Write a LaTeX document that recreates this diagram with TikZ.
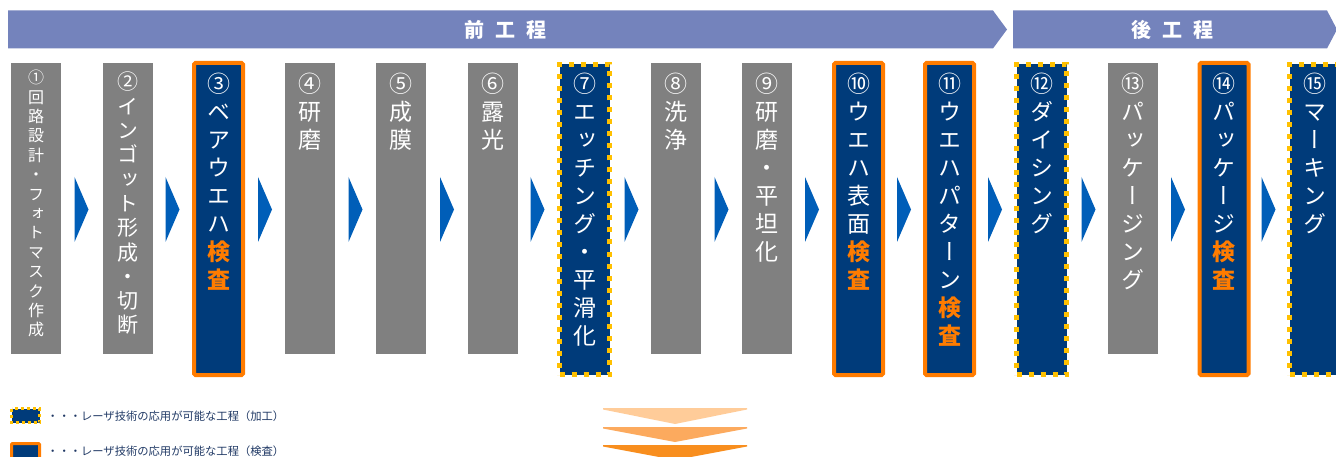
\documentclass[tikz,border=0pt]{standalone}
\usepackage{fontspec}
\newfontfamily\jp{Noto Sans CJK JP}
\newfontfamily\jpv[RawFeature=+vert]{Noto Sans CJK JP}
\definecolor{bannerc}{RGB}{116,131,188}
\definecolor{graycol}{RGB}{128,128,128}
\definecolor{navy}{RGB}{0,59,122}
\definecolor{orng}{RGB}{255,124,0}
\definecolor{ylw}{RGB}{255,192,0}
\definecolor{arrowblue}{RGB}{0,94,184}
\definecolor{legtext}{RGB}{31,56,100}
\definecolor{chevA}{RGB}{255,204,153}
\definecolor{chevB}{RGB}{252,170,94}
\definecolor{chevC}{RGB}{248,142,30}
\newcommand{\orgch}[1]{{\bfseries\color{orng}#1}}
\tikzset{
  graybox/.style={fill=graycol, draw=none, minimum width=50pt, minimum height=291pt, inner sep=0pt},
  inspbox/.style={fill=navy, draw=orng, line width=4pt, rounded corners=1.5pt, minimum width=49pt, minimum height=312pt, inner sep=0pt},
  laserbox/.style={fill=navy, draw=ylw, line width=5pt, dash pattern=on 5pt off 7pt, minimum width=50pt, minimum height=310pt, inner sep=0pt},
  coltext/.style={text=white, font=\jpv\fontsize{23}{28}\selectfont, align=center, inner sep=0pt, anchor=north},
  bannerfill/.style={fill=bannerc},
  bannertext/.style={text=white, font=\jp\bfseries\fontsize{20}{24}\selectfont, inner sep=0pt},
  flowarrow/.style={fill=arrowblue},
  legtextstyle/.style={text=legtext, font=\jp\fontsize{11.3}{13}\selectfont, inner sep=0pt, anchor=west},
}
\begin{document}
\begin{tikzpicture}[x=1pt,y=-1pt]
\useasboundingbox (0,0) rectangle (1336,457);
% banners
\fill[bannerfill] (8,10.5) -- (993,10.5) -- (1007,29.5) -- (993,48.5) -- (8,48.5) -- cycle;
\fill[bannerfill] (1013,10.5) -- (1327,10.5) -- (1337,29.5) -- (1327,48.5) -- (1013,48.5) -- cycle;
\node[bannertext] (pre) at (505,29.5) {前\hspace{11pt}工\hspace{11pt}程};
\node[bannertext] (post) at (1172,29.5) {後\hspace{11pt}工\hspace{11pt}程};
% columns
\node[graybox, anchor=north] (c1) at (36,63) {};
\node[graybox, anchor=north] (c2) at (127.5,63) {};
\node[inspbox] (c3) at (218.5,219) {};
\node[graybox, anchor=north] (c4) at (310,63) {};
\node[graybox, anchor=north] (c5) at (401,63) {};
\node[graybox, anchor=north] (c6) at (493,63) {};
\node[laserbox] (c7) at (584.5,219.5) {};
\node[graybox, anchor=north] (c8) at (676,63) {};
\node[graybox, anchor=north] (c9) at (767,63) {};
\node[inspbox] (c10) at (858.5,219) {};
\node[inspbox] (c11) at (949.5,219) {};
\node[laserbox] (c12) at (1041.5,219.5) {};
\node[graybox, anchor=north] (c13) at (1133,63) {};
\node[inspbox] (c14) at (1224,219) {};
\node[laserbox] (c15) at (1314.5,219.5) {};
% column texts
\node[coltext, font=\jpv\fontsize{16}{19.4}\selectfont] (t1) at (36,70) {①\\回\\路\\設\\計\\・\\フ\\ォ\\ト\\マ\\ス\\ク\\作\\成};
\node[coltext, font=\jpv\fontsize{21}{24.3}\selectfont] (t2) at (127.5,72) {②\\イ\\ン\\ゴ\\ッ\\ト\\形\\成\\・\\切\\断};
\node[coltext] (t3) at (218.5,73) {③\\ベ\\ア\\ウ\\エ\\ハ\\\orgch{検}\\\orgch{査}};
\node[coltext] (t4) at (310,73) {④\\研\\磨};
\node[coltext] (t5) at (401,73) {⑤\\成\\膜};
\node[coltext] (t6) at (493,73) {⑥\\露\\光};
\node[coltext] (t7) at (584.5,73) {⑦\\エ\\ッ\\チ\\ン\\グ\\・\\平\\滑\\化};
\node[coltext] (t8) at (676,73) {⑧\\洗\\浄};
\node[coltext] (t9) at (767,73) {⑨\\研\\磨\\・\\平\\坦\\化};
\node[coltext] (t10) at (858.5,73) {⑩\\ウ\\エ\\ハ\\表\\面\\\orgch{検}\\\orgch{査}};
\node[coltext] (t11) at (949.5,73) {⑪\\ウ\\エ\\ハ\\パ\\タ\\ー\\ン\\\orgch{検}\\\orgch{査}};
\node[coltext] (t12) at (1041.5,73) {⑫\\ダ\\イ\\シ\\ン\\グ};
\node[coltext] (t13) at (1133,73) {⑬\\パ\\ッ\\ケ\\ー\\ジ\\ン\\グ};
\node[coltext] (t14) at (1224,73) {⑭\\パ\\ッ\\ケ\\ー\\ジ\\\orgch{検}\\\orgch{査}};
\node[coltext] (t15) at (1314.5,73) {⑮\\マ\\ー\\キ\\ン\\グ};
% flow arrows
\foreach \ax in {81.5,172.5,265,355.5,447,537.5,631.5,721.5,812,904,995,1088.5,1178,1268.5}
  \fill[flowarrow] (\ax-7,177) -- (\ax+7,209.5) -- (\ax-7,242) -- cycle;
% legend
\filldraw[fill=navy, draw=ylw, line width=3pt, dash pattern=on 3pt off 3pt] (11.5,408.5) rectangle (39.5,422.5);
\node[legtextstyle] (l1) at (47,416) {・・・レーザ技術の応用が可能な工程（加工）};
\filldraw[fill=navy, draw=orng, line width=3pt, rounded corners=1pt] (11.5,443.5) rectangle (39.5,462);
\node[legtextstyle] (l2) at (47,451) {・・・レーザ技術の応用が可能な工程（検査）};
% bottom chevrons
\fill[chevA] (603,408) -- (747,408) -- (747,409.5) -- (675,424) -- (603,409.5) -- cycle;
\fill[chevB] (603,427) -- (747,427) -- (747,428.5) -- (675,442) -- (603,428.5) -- cycle;
\fill[chevC] (603,445) -- (747,445) -- (747,446.5) -- (675,460) -- (603,446.5) -- cycle;
\end{tikzpicture}
\end{document}
